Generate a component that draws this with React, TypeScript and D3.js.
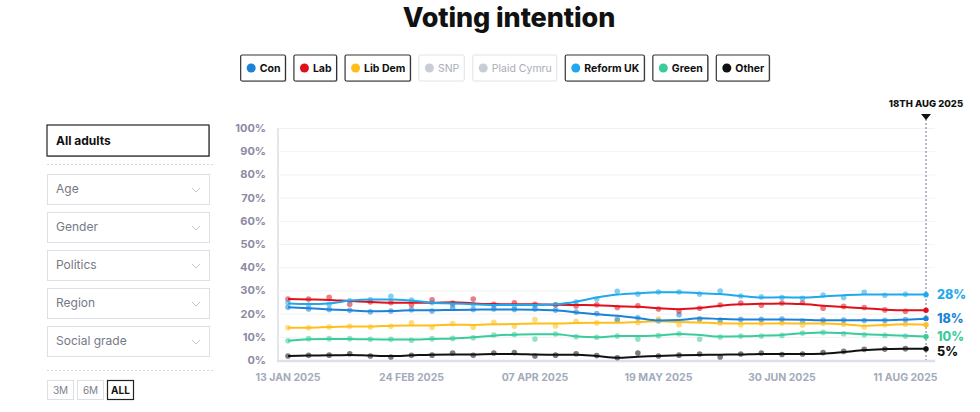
import { useEffect, useRef } from 'react';
import * as d3 from 'd3';

// weekly poll dates (Mondays)
const weeks = d3.timeMonday.range(new Date(2025, 0, 13), new Date(2025, 7, 19));

const partyNames = ['Con', 'Lab', 'Lib Dem', 'SNP', 'Plaid Cymru', 'Reform UK', 'Green', 'Other'];
const partyActive = [true, true, true, false, false, true, true, true];
const partyColors = ['#1a82d9', '#e0101b', '#ffbf1a', '#c9cdd6', '#c9cdd6', '#1fa8ec', '#3acc9c', '#111111'];

const conPoll = [22.7, 22, 21.8, 21.4, 20.8, 21.1, 21.7, 21.1, 22.3, 21.8, 22, 21.8, 22, 21.5, 20.7, 20, 17.5, 18.2, 16.8, 19.5, 17.8, 17.2, 17.5, 17.5, 17.7, 16.8, 17.2, 17.2, 17, 17.1, 17.4, 18];
const conTrend = [22.7, 22.3, 21.8, 21.4, 21, 21.1, 21.4, 21.4, 21.6, 21.7, 21.8, 21.8, 21.7, 21.4, 20.5, 19.7, 19.1, 18.1, 17, 17.2, 18, 17.7, 17.5, 17.5, 17.5, 17.4, 17.1, 17.1, 17.1, 17.1, 17.4, 17.8];
const labPoll = [26.3, 26.3, 27, 24, 25, 24.7, 23.8, 26, 24.5, 26.3, 24, 24.7, 24, 23.8, 23.3, 23.8, 22.6, 23.4, 22, 21.1, 22.3, 23.7, 24.6, 23.6, 24.6, 24.7, 22.3, 23.1, 22.6, 21.6, 21, 21.4];
const labTrend = [26.3, 26.1, 25.9, 25.4, 25, 24.7, 24.7, 24.7, 24.9, 24.4, 24.1, 24, 24, 23.8, 23.7, 23.6, 23.2, 22.9, 22.3, 21.9, 22.4, 23.4, 24, 24.2, 24.4, 24.1, 23.4, 22.8, 22.3, 21.7, 21.4, 21.4];
const ldPoll = [13.9, 13.9, 14.2, 14.5, 14.2, 14.5, 16, 14, 15.7, 14.1, 16.2, 14.5, 17.4, 14.7, 16.7, 16, 17, 16.1, 17.8, 15.2, 16.8, 15.8, 15.2, 15.8, 15.9, 15.1, 15.8, 15.4, 14.2, 15.2, 15.4, 15.2];
const ldTrend = [13.9, 13.9, 14.2, 14.4, 14.4, 14.8, 14.9, 14.9, 15.2, 15.1, 15.4, 15.5, 15.7, 15.7, 16, 16.1, 16.1, 16.4, 16.7, 16.4, 16.2, 15.8, 15.7, 15.7, 15.8, 15.7, 15.7, 15.4, 14.8, 15.1, 15.4, 15.2];
const reformPoll = [24.7, 23.7, 24, 25.5, 26, 27.5, 25.8, 24.7, 23.7, 24, 23.4, 23.3, 23.4, 23.7, 25, 26.3, 29.6, 28.4, 29.3, 29.3, 28.4, 29.7, 27.6, 27.2, 26.9, 26.6, 28, 26.9, 29.2, 27.9, 28.3, 28];
const reformTrend = [24.4, 24.1, 24.4, 25.6, 26.1, 26.1, 25.6, 24.7, 24.4, 24, 23.7, 23.7, 23.7, 24, 25.1, 26.9, 28.2, 28.8, 29.2, 29.2, 28.8, 28.4, 27.6, 26.9, 27, 26.9, 27.4, 27.9, 28.2, 28.2, 28.2, 28.2];
const greenPoll = [8.3, 9.2, 9.2, 9.2, 8.9, 8.9, 8.5, 9.2, 9.3, 9.6, 10.8, 11, 9, 11.2, 10, 9.8, 10.3, 9, 10.5, 11.3, 8.9, 9.9, 10.3, 10.3, 10.6, 11.6, 11.9, 11.3, 10.9, 10.6, 10.3, 10];
const greenTrend = [8.3, 8.9, 9.1, 9.1, 8.9, 8.8, 8.8, 9.1, 9.3, 9.8, 10.5, 10.9, 11.1, 11.1, 10.2, 9.8, 10.3, 10.3, 10.6, 11.2, 10.8, 10.1, 10.2, 10.5, 10.8, 11.5, 11.9, 11.6, 11.1, 10.8, 10.5, 10.1];
const otherPoll = [1.7, 2, 2.1, 2.7, 1.7, 1.3, 2, 2.1, 3, 2, 3, 3.2, 1.7, 2.1, 2.7, 1.9, 1, 3, 1.7, 2.1, 2.6, 1.3, 2.6, 3, 2.4, 2.6, 3.2, 3.7, 4.6, 4.7, 4.9, 4.7];
const otherTrend = [1.7, 1.9, 2, 2.2, 1.9, 1.7, 2, 2.3, 2.4, 2.4, 2.6, 2.6, 2.4, 2.3, 2.3, 1.7, 1, 1.4, 1.7, 2, 2.2, 2.3, 2.4, 2.6, 2.6, 2.6, 2.7, 3.4, 4.3, 4.7, 4.9, 4.9];

const yTicks = [0, 10, 20, 30, 40, 50, 60, 70, 80, 90, 100];
const filterLabels = ['Age', 'Gender', 'Politics', 'Region', 'Social grade'];
const rangeButtons = ['3M', '6M', 'ALL'];

const FONT = 'Inter, "DejaVu Sans", sans-serif';

function App() {
  const svgRef = useRef<SVGSVGElement>(null);

  useEffect(() => {
    if (!svgRef.current) return;
    const svg = d3.select(svgRef.current);
    svg.selectAll('*').remove();

    const series = [
      { name: 'Other', color: '#111111', poll: otherPoll, trend: otherTrend, label: true },
      { name: 'Green', color: '#3acc9c', poll: greenPoll, trend: greenTrend, label: true },
      { name: 'Lib Dem', color: '#ffbf1a', poll: ldPoll, trend: ldTrend, label: false },
      { name: 'Con', color: '#1a82d9', poll: conPoll, trend: conTrend, label: true },
      { name: 'Lab', color: '#e0101b', poll: labPoll, trend: labTrend, label: false },
      { name: 'Reform UK', color: '#1fa8ec', poll: reformPoll, trend: reformTrend, label: true },
    ];

    // title
    svg.append('text')
      .attr('x', 509).attr('y', 27)
      .attr('text-anchor', 'middle')
      .attr('font-family', FONT)
      .attr('font-size', 27).attr('font-weight', 800)
      .attr('fill', '#111')
      .attr('letter-spacing', -0.1)
      .text('Voting intention');

    // legend buttons, measured then centred
    const legend = svg.append('g');
    const items = partyNames.map((name, i) => {
      const g = legend.append('g');
      const t = g.append('text')
        .attr('font-family', FONT).attr('font-size', 10.5).attr('font-weight', partyActive[i] ? 700 : 400)
        .attr('fill', partyActive[i] ? '#111' : '#a8adb8')
        .text(name);
      const w = (t.node() as SVGTextElement).getComputedTextLength();
      return { g, t, w: w + 24, i };
    });
    const gap = 8.5;
    const total = d3.sum(items, d => d.w) + gap * (items.length - 1);
    let lx = 505 - total / 2;
    items.forEach(({ g, t, w, i }) => {
      g.attr('transform', `translate(${lx},55)`);
      if (partyActive[i]) {
        g.insert('rect', 'text').attr('x', 1).attr('y', 1).attr('width', w).attr('height', 26)
          .attr('rx', 1.5).attr('fill', '#bbb');
      }
      g.insert('rect', 'text').attr('width', w).attr('height', 26).attr('rx', 1.5)
        .attr('fill', '#fff')
        .attr('stroke', partyActive[i] ? '#333' : '#dfe2e7')
        .attr('stroke-width', partyActive[i] ? 1.2 : 1);
      g.append('circle').attr('cx', 10.5).attr('cy', 13).attr('r', 4.5).attr('fill', partyColors[i]);
      t.attr('x', 19).attr('y', 16.8);
      lx += w + gap;
    });

    // left panel
    const panel = svg.append('g').attr('font-family', FONT);
    panel.append('rect').attr('x', 48).attr('y', 126).attr('width', 162).attr('height', 31).attr('fill', '#bbb');
    panel.append('rect').attr('x', 47).attr('y', 125).attr('width', 162).attr('height', 31)
      .attr('fill', '#fff').attr('stroke', '#222').attr('stroke-width', 1.2);
    panel.append('text').attr('x', 56).attr('y', 145).attr('font-size', 12).attr('font-weight', 700)
      .attr('fill', '#111').text('All adults');
    panel.append('line').attr('x1', 47).attr('x2', 213).attr('y1', 164.5).attr('y2', 164.5)
      .attr('stroke', '#d5d8de').attr('stroke-dasharray', '2,2');
    filterLabels.forEach((lab, i) => {
      const y = 174 + i * 38;
      panel.append('rect').attr('x', 47.5).attr('y', y + 0.5).attr('width', 162).attr('height', 30)
        .attr('fill', '#fff').attr('stroke', '#dcdfe5');
      panel.append('text').attr('x', 56).attr('y', y + 19).attr('font-size', 12)
        .attr('fill', '#757a86').text(lab);
      panel.append('path').attr('d', `M192,${y + 14}l4,4l4,-4`).attr('fill', 'none')
        .attr('stroke', '#c3c7cf').attr('stroke-width', 1);
    });
    panel.append('line').attr('x1', 47).attr('x2', 214).attr('y1', 370.5).attr('y2', 370.5)
      .attr('stroke', '#d5d8de').attr('stroke-dasharray', '2,2');
    rangeButtons.forEach((lab, i) => {
      const x = 47 + i * 30;
      const active = lab === 'ALL';
      panel.append('rect').attr('x', x + 0.5).attr('y', 380.5).attr('width', 26).attr('height', 19)
        .attr('fill', '#fff').attr('stroke', active ? '#222' : '#dcdfe5').attr('stroke-width', active ? 1.2 : 1);
      panel.append('text').attr('x', x + 13.5).attr('y', 394).attr('text-anchor', 'middle')
        .attr('font-size', 10).attr('font-weight', active ? 700 : 400)
        .attr('fill', active ? '#111' : '#7c818c').text(lab);
    });

    // chart scales
    const x = d3.scaleTime().domain([weeks[0], weeks[weeks.length - 1]]).range([288, 926]);
    const y = d3.scaleLinear().domain([0, 100]).range([360, 128]);

    const chart = svg.append('g').attr('font-family', FONT);
    chart.selectAll('.grid').data(yTicks.filter(t => t > 0)).enter().append('line')
      .attr('x1', 279).attr('x2', 935)
      .attr('y1', d => y(d) + 0.5).attr('y2', d => y(d) + 0.5)
      .attr('stroke', '#f1f2f4');
    chart.append('line').attr('x1', 278).attr('x2', 278).attr('y1', 128).attr('y2', 361)
      .attr('stroke', '#e4e6eb').attr('stroke-width', 2);
    chart.append('line').attr('x1', 277).attr('x2', 935).attr('y1', 361).attr('y2', 361)
      .attr('stroke', '#dde0e6').attr('stroke-width', 2.5);

    chart.selectAll('.ylab').data(yTicks).enter().append('text')
      .attr('x', 266).attr('y', d => y(d) + 4)
      .attr('text-anchor', 'end').attr('font-size', 11).attr('font-weight', 700)
      .attr('fill', '#8b8aa3').text(d => `${d}%`);

    const xTicks = weeks.filter((_, i) => i % 6 === 0);
    const fmt = d3.timeFormat('%d %b %Y');
    chart.selectAll('.xlab').data(xTicks).enter().append('text')
      .attr('x', d => x(d)).attr('y', 381)
      .attr('text-anchor', 'middle').attr('font-size', 10.5).attr('font-weight', 700)
      .attr('fill', '#a3abbb').text(d => fmt(d).toUpperCase());

    // current date marker
    const last = weeks[weeks.length - 1];
    chart.append('line').attr('x1', x(last)).attr('x2', x(last)).attr('y1', 119).attr('y2', 360)
      .attr('stroke', '#8d96aa').attr('stroke-width', 1.3).attr('stroke-dasharray', '2,2');
    chart.append('path').attr('d', `M${x(last) - 5},114L${x(last) + 5},114L${x(last)},120Z`).attr('fill', '#111');
    chart.append('text').attr('x', x(last)).attr('y', 107).attr('text-anchor', 'middle')
      .attr('font-size', 9.5).attr('font-weight', 800).attr('fill', '#111')
      .text(`${d3.timeFormat('%-d')(last)}TH ${d3.timeFormat('%b %Y')(last).toUpperCase()}`);

    const line = d3.line<number>()
      .x((_, i) => x(weeks[i]))
      .y(d => y(d))
      .curve(d3.curveMonotoneX);

    series.forEach(s => {
      chart.append('g').selectAll('circle').data(s.poll).enter().append('circle')
        .attr('cx', (_, i) => x(weeks[i])).attr('cy', d => y(d)).attr('r', 2.8)
        .attr('fill', s.color).attr('opacity', 0.55);
    });
    series.forEach(s => {
      chart.append('path').datum(s.trend).attr('d', line)
        .attr('fill', 'none').attr('stroke', s.color).attr('stroke-width', 2);
      chart.append('circle').attr('cx', x(last)).attr('cy', y(s.trend[s.trend.length - 1])).attr('r', 2.5)
        .attr('fill', s.color);
    });

    // end labels with simple collision nudge
    const labelled = series.filter(s => s.label)
      .map(s => ({ s, v: Math.round(s.trend[s.trend.length - 1]), ly: y(s.trend[s.trend.length - 1]) }))
      .sort((a, b) => a.ly - b.ly);
    for (let i = 1; i < labelled.length; i++) {
      if (labelled[i].ly - labelled[i - 1].ly < 15) labelled[i].ly = labelled[i - 1].ly + 15;
    }
    labelled.forEach(d => {
      chart.append('text').attr('x', 937).attr('y', d.ly + 4.5)
        .attr('font-size', 12.5).attr('font-weight', 800)
        .attr('fill', d.s.color).text(`${d.v}%`);
    });
  }, []);

  return (
    <svg ref={svgRef} width={980} height={412}
      style={{ position: 'absolute', left: 0, top: 0, background: '#fff' }} />
  );
}

export default App;
